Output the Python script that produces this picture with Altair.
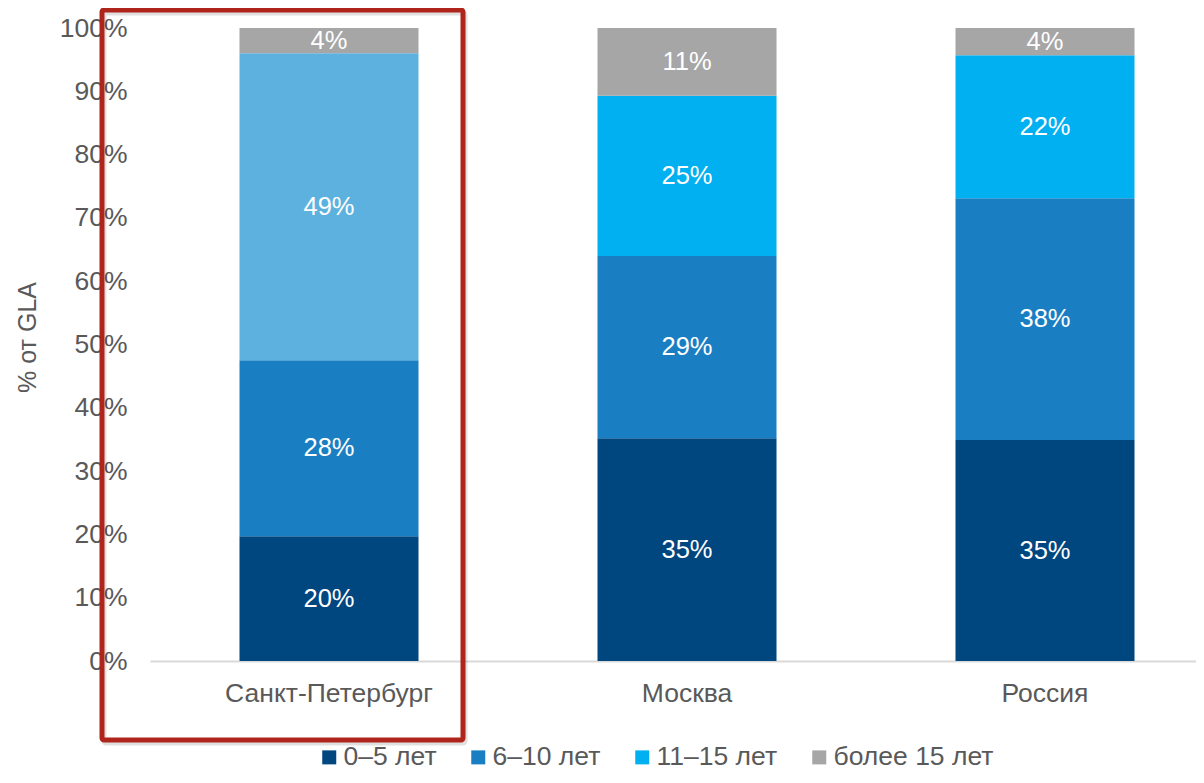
import altair as alt
import pandas as pd

regions = ["Санкт-Петербург", "Москва", "Россия"]
groups = ["0–5 лет", "6–10 лет", "11–15 лет", "более 15 лет"]
# segment shares (fraction of GLA)
spb = [0.197, 0.278, 0.485, 0.040]
msk = [0.352, 0.288, 0.253, 0.107]
rus = [0.349, 0.382, 0.226, 0.043]
labels_spb = ["20%", "28%", "49%", "4%"]
labels_msk = ["35%", "29%", "25%", "11%"]
labels_rus = ["35%", "38%", "22%", "4%"]

colors = ["#00467F", "#1A7FC2", "#00B0F0", "#A6A6A6"]
spb_highlight = "#5DB1DE"

rows = []
for reg, vals, labs in zip(regions, [spb, msk, rus], [labels_spb, labels_msk, labels_rus]):
    for i, (g, v, l) in enumerate(zip(groups, vals, labs)):
        key = g
        if reg == regions[0] and i == 2:
            key = "11–15 лет (СПб)"
        rows.append({"region": reg, "group": g, "ckey": key, "order": i, "value": v, "label": l})
df = pd.DataFrame(rows)

FONT = "Liberation Sans"
GREY = "#595959"
FS = 26.5

base = alt.Chart(df).transform_window(
    cum="sum(value)", groupby=["region"], sort=[alt.SortField("order")], frame=[None, 0]
).transform_calculate(
    lo="datum.cum - datum.value", mid="datum.cum - datum.value / 2"
)

xenc = alt.X(
    "region:N", sort=regions, title=None,
    scale=alt.Scale(range=[0, 1074], paddingInner=0.5, paddingOuter=0.25),
    axis=alt.Axis(labelAngle=0, ticks=False, tickSize=0, labelPadding=19, labelFontSize=FS,
                  labelLimit=0, labelColor=GREY, labelFont=FONT, domainColor="#D9D9D9", domainWidth=2),
)

bars = base.mark_bar().encode(
    x=xenc,
    y=alt.Y("lo:Q", scale=alt.Scale(domain=[0, 1], nice=False),
            axis=alt.Axis(values=[i / 10 for i in range(11)], format=".0%", grid=False, domain=False,
                          ticks=False, tickSize=0, labelPadding=23, labelFontSize=FS, labelColor=GREY,
                          labelFont=FONT, title="% от GLA", titleFontSize=25, titleFontWeight="normal",
                          titleColor=GREY, titleFont=FONT, titleX=-110, titleY=309, titleAngle=-90)),
    y2="cum:Q",
    color=alt.Color("ckey:N",
                    scale=alt.Scale(domain=groups + ["11–15 лет (СПб)"], range=colors + [spb_highlight]),
                    legend=alt.Legend(values=groups, title=None, orient="none", direction="horizontal",
                                      legendX=166, legendY=716, symbolType="square", symbolSize=196,
                                      symbolStrokeWidth=0, labelFontSize=FS, labelColor=GREY, labelFont=FONT,
                                      columnPadding=28, labelOffset=1, labelLimit=0)),
)

text = base.mark_text(color="white", fontSize=25.5, font=FONT).encode(
    x=alt.X("region:N", sort=regions),
    y=alt.Y("mid:Q"),
    text="label:N",
)

box_df = pd.DataFrame({"name": ["highlight"]})
shadow = alt.Chart(box_df).mark_rect(fill=None, stroke="#000000", strokeOpacity=0.12, strokeWidth=5,
                                     cornerRadius=2).encode(
    x=alt.value(-46), x2=alt.value(315), y=alt.value(-15), y2=alt.value(715)
)
box = alt.Chart(box_df).mark_rect(fill=None, stroke="#B0251B", strokeWidth=5, cornerRadius=2).encode(
    x=alt.value(-48), x2=alt.value(313), y=alt.value(-18), y2=alt.value(712)
)

chart = alt.layer(bars, text, shadow, box).properties(
    width=1046, height=633,
    autosize=alt.AutoSizeParams(type="none"),
    padding={"left": 142, "top": 20, "right": 0, "bottom": 114},
).configure_view(stroke=None)

chart.save("out.html", embed_options={"renderer": "svg", "actions": False})
